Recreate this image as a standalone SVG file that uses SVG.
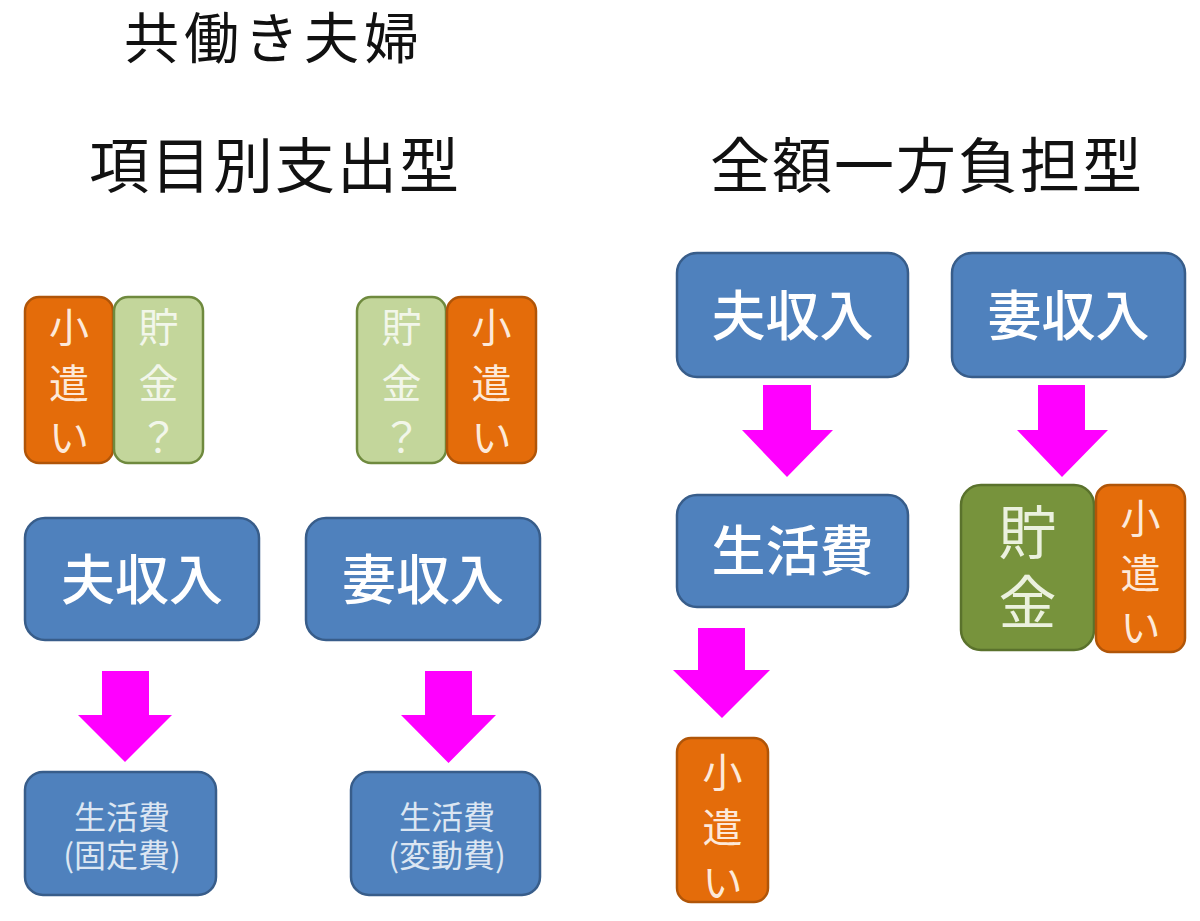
<svg xmlns="http://www.w3.org/2000/svg" width="1200" height="921" viewBox="0 0 1200 921">
<style>
text{font-family:"Noto Sans CJK JP","Noto Sans CJK SC",sans-serif;}
.title{font-size:55px;fill:#111;}
.sub{font-size:60px;fill:#111;}
.blue{fill:#4f81bd;stroke:#385d8a;stroke-width:2.5;}
.orange{fill:#e46c0a;stroke:#b05508;stroke-width:2.5;}
.lgreen{fill:#c3d69b;stroke:#6f8a3e;stroke-width:2.5;}
.olive{fill:#77933c;stroke:#5a722c;stroke-width:2.5;}
.big{font-size:54px;fill:#fff;text-anchor:middle;font-weight:500;}
.small{font-size:32px;fill:#dce6f2;text-anchor:middle;}
.vo{font-size:40px;fill:#fde9d9;text-anchor:middle;}
.vg{font-size:40px;fill:#f2f6ea;text-anchor:middle;}
.vb{font-size:58px;fill:#ebf1de;text-anchor:middle;}
.arrow{fill:#ff00ff;}
</style>
<g id="titles">
<text class="title" x="124" y="58" letter-spacing="5">共働き夫婦</text>
<text class="sub" x="89" y="188" letter-spacing="2">項目別支出型</text>
<text class="sub" x="710" y="188" letter-spacing="2">全額一方負担型</text>
</g>
<g id="connectors">
<polygon class="arrow" points="102,671 149,671 149,715 172,715 125,762 78,715 102,715"/>
<polygon class="arrow" points="425,671 472,671 472,715 496,715 448.5,763 401,715 425,715"/>
<polygon class="arrow" points="763,385 811,385 811,430 833,430 787,477 742,430 763,430"/>
<polygon class="arrow" points="1038,385 1085,385 1085,430 1108,430 1062,477 1017,430 1038,430"/>
<polygon class="arrow" points="698,628 745,628 745,670 770,670 722,718 673,670 698,670"/>
</g>
<g id="left-kozukai">
<rect class="orange" x="25" y="297" width="88" height="166" rx="14"/>
<text class="vo"><tspan x="69" y="342">小</tspan><tspan x="69" y="398">遣</tspan><tspan x="69" y="452">い</tspan></text>
</g>
<g id="left-chokin">
<rect class="lgreen" x="114" y="297" width="89" height="166" rx="14"/>
<text class="vg"><tspan x="158.5" y="342">貯</tspan><tspan x="158.5" y="398">金</tspan><tspan x="158.5" y="452">？</tspan></text>
</g>
<g id="right-chokin">
<rect class="lgreen" x="357" y="297" width="89" height="166" rx="14"/>
<text class="vg"><tspan x="401.5" y="342">貯</tspan><tspan x="401.5" y="398">金</tspan><tspan x="401.5" y="452">？</tspan></text>
</g>
<g id="right-kozukai">
<rect class="orange" x="447" y="297" width="89" height="166" rx="14"/>
<text class="vo"><tspan x="491.5" y="342">小</tspan><tspan x="491.5" y="398">遣</tspan><tspan x="491.5" y="452">い</tspan></text>
</g>
<g id="a-husband">
<rect class="blue" x="25" y="518" width="234" height="122" rx="20"/>
<text class="big" x="142" y="600">夫収入</text>
</g>
<g id="a-wife">
<rect class="blue" x="306" y="518" width="234" height="122" rx="20"/>
<text class="big" x="423" y="600">妻収入</text>
</g>
<g id="a-fixed">
<rect class="blue" x="25" y="772" width="191" height="123" rx="18"/>
<text class="small"><tspan x="122" y="829">生活費</tspan><tspan x="122" y="867">(固定費)</tspan></text>
</g>
<g id="a-variable">
<rect class="blue" x="351" y="772" width="189" height="123" rx="18"/>
<text class="small"><tspan x="447" y="829">生活費</tspan><tspan x="447" y="867">(変動費)</tspan></text>
</g>
<g id="b-husband">
<rect class="blue" x="677" y="253" width="231" height="124" rx="20"/>
<text class="big" x="792.5" y="336">夫収入</text>
</g>
<g id="b-wife">
<rect class="blue" x="952" y="253" width="233" height="124" rx="20"/>
<text class="big" x="1068.5" y="336">妻収入</text>
</g>
<g id="b-living">
<rect class="blue" x="677" y="495" width="231" height="112" rx="20"/>
<text class="big" x="792.5" y="571">生活費</text>
</g>
<g id="b-chokin">
<rect class="olive" x="961" y="485" width="133" height="165" rx="20"/>
<text class="vb"><tspan x="1027.5" y="554">貯</tspan><tspan x="1027.5" y="624">金</tspan></text>
</g>
<g id="b-kozukai-wife">
<rect class="orange" x="1096" y="485" width="89" height="167" rx="14"/>
<text class="vo"><tspan x="1140.5" y="533">小</tspan><tspan x="1140.5" y="588">遣</tspan><tspan x="1140.5" y="642">い</tspan></text>
</g>
<g id="b-kozukai-husband">
<rect class="orange" x="677" y="738" width="91" height="164" rx="14"/>
<text class="vo" font-size="44"><tspan x="722.5" y="787">小</tspan><tspan x="722.5" y="842">遣</tspan><tspan x="722.5" y="897">い</tspan></text>
</g>
</svg>
